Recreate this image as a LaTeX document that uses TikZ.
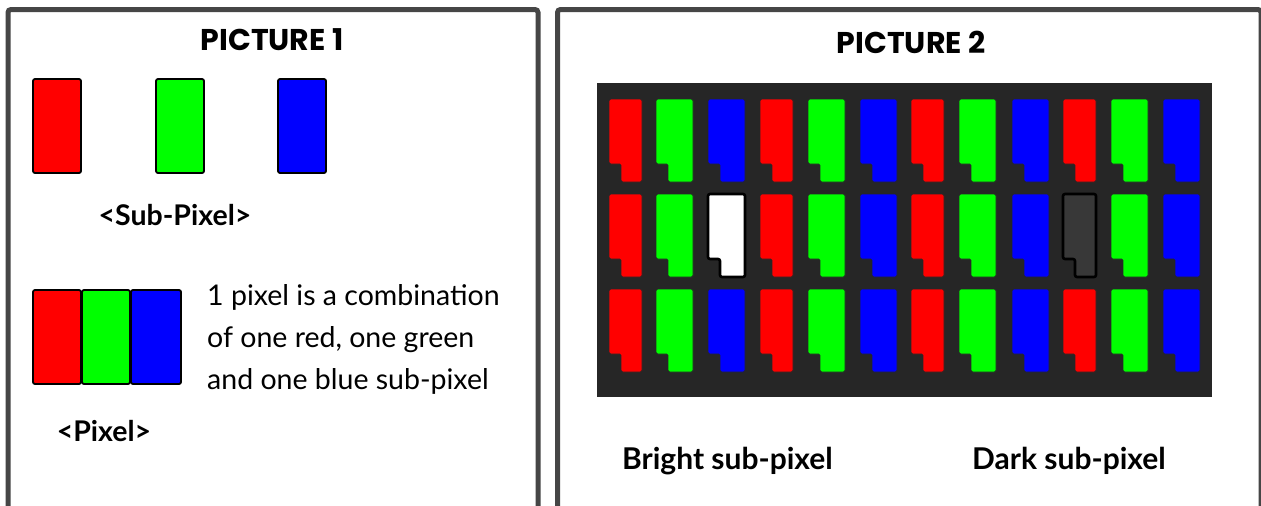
\documentclass[tikz,border=0pt]{standalone}
\usepackage{fontspec}
\setmainfont{Lato}
\newfontfamily\titlefont{Poppins}
\definecolor{frame}{RGB}{70,70,70}
\definecolor{panel}{RGB}{38,38,38}
\definecolor{pr}{RGB}{255,0,0}
\definecolor{pg}{RGB}{0,255,0}
\definecolor{pb}{RGB}{0,0,255}
\definecolor{darksub}{RGB}{56,56,56}
\begin{document}
\begin{tikzpicture}[x=1pt,y=-1pt,
  frameline/.style={draw=frame, line width=5pt, rounded corners=3pt},
  title/.style={font=\titlefont\bfseries\fontsize{30}{34}\selectfont, inner sep=0pt},
  lab/.style={font=\bfseries\fontsize{28.5}{32}\selectfont, inner sep=0pt},
  body/.style={font=\fontsize{28.5}{32}\selectfont, inner sep=0pt, anchor=base west},
  subbox/.style={draw=black, line width=1.8pt, rounded corners=2pt},
  cell/.style={draw=black!85, line width=0.8pt, rounded corners=1.5pt},
  special/.style={draw=black, line width=2.6pt, rounded corners=2pt}]
\useasboundingbox (0,0) rectangle (1261,506);
\fill[white] (0,0) rectangle (1261,506);
% panels
\draw[frameline] (8,520) -- (8,9.5) -- (538,9.5) -- (538,520);
\draw[frameline] (557.5,520) -- (557.5,9.5) -- (1261,9.5) -- (1261,520);
% titles
\node[title] (t1) at (272,40) {PICTURE 1};
\node[title] (t2) at (911,42) {PICTURE 2};
% picture 1: sub-pixels
\draw[subbox, fill=pr] (33,79) rectangle (81,173);
\draw[subbox, fill=pg] (156,79) rectangle (204,173);
\draw[subbox, fill=pb] (278,79) rectangle (326,173);
\node[lab] (subl) at (175,215) {<Sub-Pixel>};
% picture 1: pixel
\draw[subbox, fill=pr] (33,290) rectangle (81,384);
\draw[subbox, fill=pg] (82,290) rectangle (130,384);
\draw[subbox, fill=pb] (131,290) rectangle (181,384);
\node[lab] (pixl) at (104,431) {<Pixel>};
\node[body] (b1) at (207,305) {1 pixel is a combination};
\node[body] (b2) at (207,347) {of one red, one green};
\node[body] (b3) at (207,389) {and one blue sub-pixel};
% picture 2: panel
\fill[panel] (597,83) rectangle (1212,397);
\foreach \x/\w/\c in {609/33/pr, 656/37/pg, 708/37/pb, 760/33/pr, 808/37/pg, 860/37/pb,
                      911/33/pr, 959/37/pg, 1012/37/pb, 1063/33/pr, 1111/37/pg, 1163/37/pb}{
  \foreach \y in {99,194,289}{
    \draw[cell, fill=\c] (\x,\y) -- (\x+\w,\y) -- (\x+\w,\y+83) -- (\x+12,\y+83)
      -- (\x+12,\y+65) -- (\x,\y+65) -- cycle;
  }
}
% bright and dark sub-pixels
\draw[special, fill=white] (708,194) -- (745,194) -- (745,277) -- (720,277)
  -- (720,259) -- (708,259) -- cycle;
\draw[special, fill=darksub] (1063,194) -- (1096,194) -- (1096,277) -- (1075,277)
  -- (1075,259) -- (1063,259) -- cycle;
\node[lab, font=\bfseries\fontsize{30}{34}\selectfont] (bright) at (727.5,461) {Bright sub-pixel};
\node[lab, font=\bfseries\fontsize{30}{34}\selectfont] (dark) at (1069,461) {Dark sub-pixel};
\end{tikzpicture}
\end{document}
